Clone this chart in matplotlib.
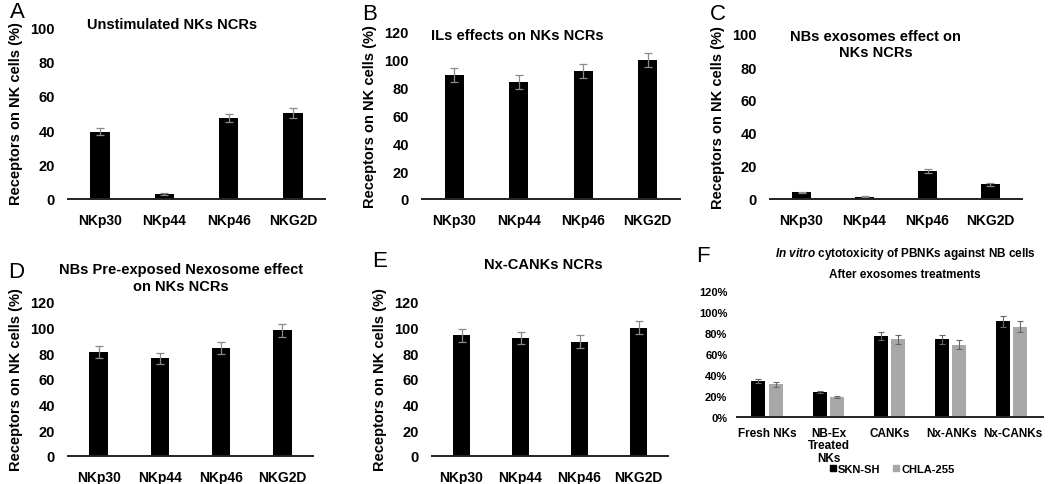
import matplotlib
matplotlib.use("Agg")
import matplotlib.pyplot as plt
from matplotlib.patches import Patch

plt.rcParams['font.family'] = ['Liberation Sans', 'DejaVu Sans']
plt.rcParams['font.weight'] = 'bold'
plt.rcParams['mathtext.fontset'] = 'custom'
plt.rcParams['mathtext.it'] = 'Liberation Sans:italic'

# %% data
receptors = ["NKp30", "NKp44", "NKp46", "NKG2D"]

unstim = [39, 3, 47, 50]
unstim_err = [2, 0.5, 2.5, 3]

ils = [89, 84, 92, 100]
ils_err = [5, 5, 5, 5]

nb_exo = [4, 1.5, 17, 9]
nb_exo_err = [0.5, 0.5, 1, 1]

pre_exp = [81, 76, 84, 98]
pre_exp_err = [4.5, 4, 4.5, 5]

nx_canks = [94, 92, 89, 100]
nx_canks_err = [5, 5, 5, 5]

groups = ["Fresh NKs", "NB-Ex\nTreated\nNKs", "CANKs", "Nx-ANKs", "Nx-CANKs"]
skn_sh = [34, 24, 77, 74, 91]
skn_sh_err = [2, 1, 4, 4, 5]
chla_255 = [31, 19, 74, 69, 86]
chla_255_err = [2, 1, 4, 4, 5]

# %% layout
W, H = 1050, 485
fig = plt.figure(figsize=(W / 100, H / 100), dpi=100)


def px_axes(x0, x1, ytop, ybot):
    return fig.add_axes([x0 / W, 1 - ybot / H, (x1 - x0) / W, (ybot - ytop) / H])


def style(ax, ylim, yticks, fs_tick=10.5, fs_x=10):
    ax.set_ylim(*ylim)
    ax.set_yticks(yticks)
    for s in ["top", "right", "left"]:
        ax.spines[s].set_visible(False)
    ax.spines["bottom"].set_linewidth(1.4)
    ax.spines["bottom"].set_color("#222222")
    ax.tick_params(axis="both", length=0)
    ax.tick_params(axis="y", pad=9.5, labelsize=fs_tick)
    ax.tick_params(axis="x", pad=10, labelsize=fs_x)
    for lab in ax.get_xticklabels() + ax.get_yticklabels():
        lab.set_fontweight("bold")


def ncr_panel(ax, vals, errs, ylim, yticks, title, title_y, title_x=0.45):
    x = range(len(receptors))
    ax.bar(x, vals, width=0.3, color="black", yerr=errs,
           error_kw=dict(ecolor="#8a8a8a", elinewidth=0.9, capsize=3, capthick=0.9))
    ax.set_xlim(-0.5, len(receptors) - 0.5)
    ax.set_xticks(list(x))
    ax.set_xticklabels(receptors)
    style(ax, ylim, yticks)
    ax.set_ylabel("Receptors on NK cells (%)", fontsize=10.5, fontweight="bold", labelpad=5)
    ax.text(title_x, title_y, title, transform=ax.transAxes, ha="center", va="center",
            fontsize=10.5, fontweight="bold", linespacing=1.25, clip_on=False)


axA = px_axes(68, 325, 28, 200)
ncr_panel(axA, unstim, unstim_err, (0, 100), range(0, 101, 20),
          "Unstimulated NKs NCRs", 1.015, 0.405)

axB = px_axes(422, 680, 33, 200)
ncr_panel(axB, ils, ils_err, (0, 120), range(0, 121, 20),
          "ILs effects on NKs NCRs", 0.98, 0.37)

axC = px_axes(770, 1022, 35, 200)
ncr_panel(axC, nb_exo, nb_exo_err, (0, 100), range(0, 101, 20),
          "NBs exosomes effect on\nNKs NCRs", 0.94, 0.42)

axD = px_axes(68, 313, 303, 457)
ncr_panel(axD, pre_exp, pre_exp_err, (0, 120), range(0, 121, 20),
          "NBs Pre-exposed Nexosome effect\non NKs NCRs", 1.16, 0.46)

axE = px_axes(432, 668, 303, 457)
ncr_panel(axE, nx_canks, nx_canks_err, (0, 120), range(0, 121, 20),
          "Nx-CANKs NCRs", 1.245, 0.47)

# panel F
axF = px_axes(737, 1043, 292, 418)
xf = range(len(groups))
axF.bar([i - 0.15 for i in xf], skn_sh, width=0.23, color="black", yerr=skn_sh_err,
        error_kw=dict(ecolor="#666666", elinewidth=0.8, capsize=2.5, capthick=0.8))
axF.bar([i + 0.13 for i in xf], chla_255, width=0.23, color="#a8a8a8", yerr=chla_255_err,
        error_kw=dict(ecolor="#666666", elinewidth=0.8, capsize=2.5, capthick=0.8))
axF.set_xlim(-0.5, len(groups) - 0.5)
axF.set_xticks(list(xf))
axF.set_xticklabels(groups, linespacing=1.05)
style(axF, (0, 120), range(0, 121, 20), fs_tick=8, fs_x=8.5)
axF.set_yticklabels([f"{v}%" for v in range(0, 121, 20)])
axF.tick_params(axis="y", pad=7)
axF.tick_params(axis="x", pad=7)
axF.text(0.55, 1.3, r"$\it{In\ vitro}$ cytotoxicity of PBNKs against NB cells",
         transform=axF.transAxes, ha="center", va="center", fontsize=8.5, fontweight="bold")
axF.text(0.55, 1.135, "After exosomes treatments", transform=axF.transAxes,
         ha="center", va="center", fontsize=8.5, fontweight="bold")
fig.legend(handles=[Patch(color="black", label="SKN-SH"), Patch(color="#a8a8a8", label="CHLA-255")],
           loc="center", bbox_to_anchor=(892 / W, 1 - 470 / H), ncol=2, frameon=False,
           prop=dict(size=8, weight="bold"), handlelength=0.55, handleheight=0.55,
           handletextpad=0.2, columnspacing=1.1, borderpad=0.2)

# panel letters
for letter, (lx, ly) in zip("ABCDEF", [(10, 12), (362, 14), (710, 14), (8, 272), (372, 262), (696, 257)]):
    fig.text(lx / W, 1 - ly / H, letter, fontsize=16, fontweight="normal", va="center", ha="left")

fig.savefig("out.png", dpi=100)
